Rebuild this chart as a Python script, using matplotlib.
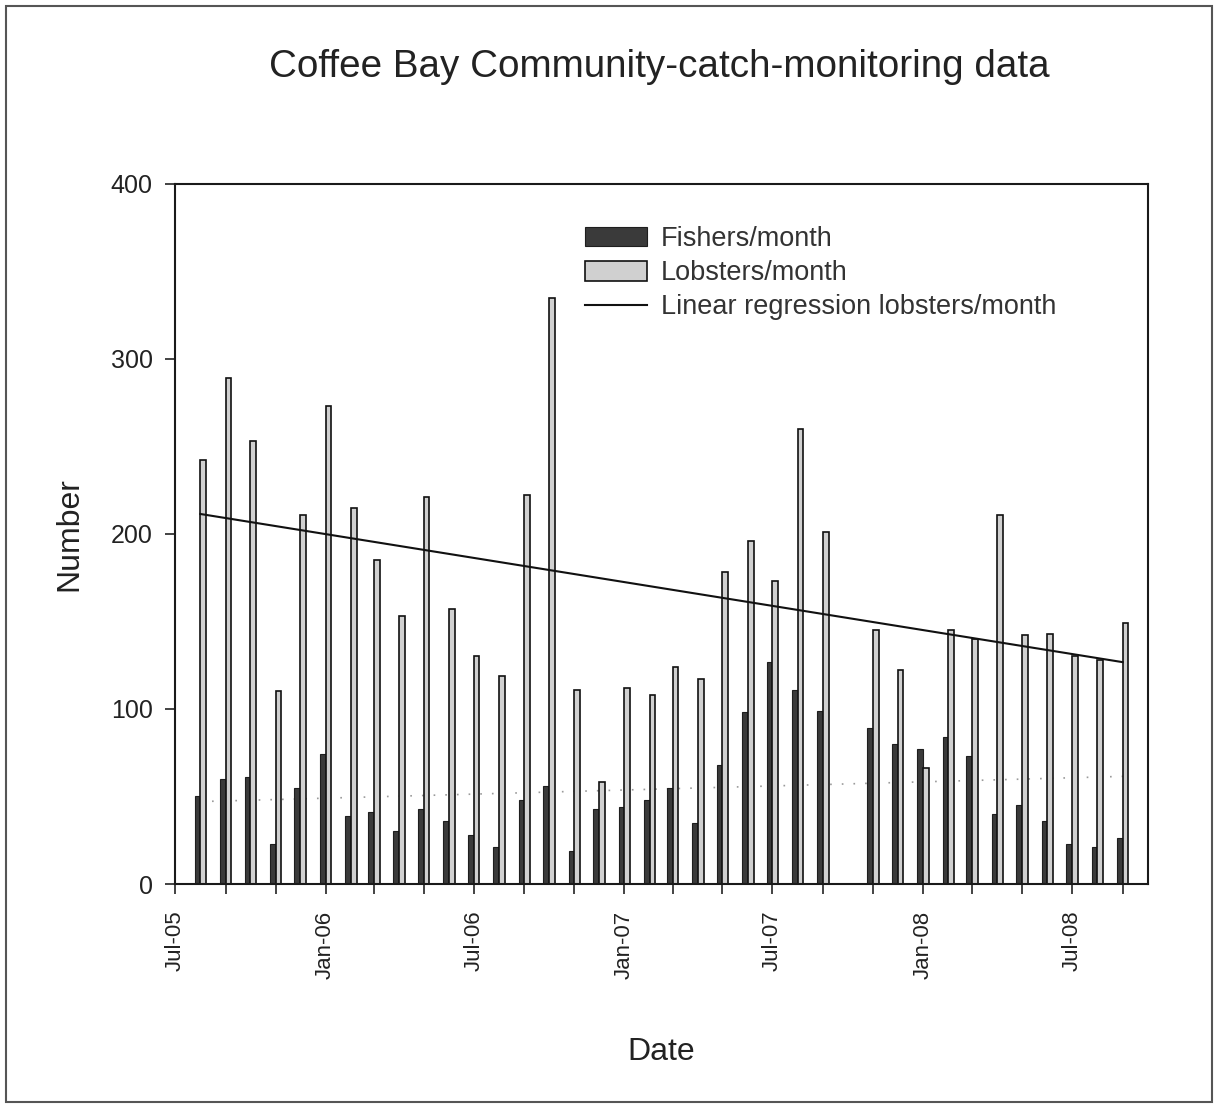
import numpy as np
import pandas as pd
import matplotlib
matplotlib.use("Agg")
import matplotlib.pyplot as plt
import matplotlib.dates as mdates
from matplotlib.patches import Rectangle

plt.rcParams['font.family'] = ['Liberation Sans', 'DejaVu Sans']

# monthly catch records, Aug 2005 - Sep 2008 (no record for Oct 2007)
months = pd.date_range("2005-08-01", "2008-09-01", freq="MS")
fishers = [50, 60, 61, 23, 55, 74, 39, 41, 30, 43, 36, 28, 21,
           48, 56, 19, 43, 44, 48, 55, 35, 68, 98, 127, 111, 99,
           np.nan, 89, 80, 77, 84, 73, 40, 45, 36, 23, 21, 26]
lobsters = [242, 289, 253, 110, 211, 273, 215, 185, 153, 221, 157, 130, 119,
            222, 335, 111, 58, 112, 108, 124, 117, 178, 196, 173, 260, 201,
            np.nan, 145, 122, 66, 145, 140, 211, 142, 143, 130, 128, 149]

fishers = np.array(fishers, dtype=float)
lobsters = np.array(lobsters, dtype=float)
x = mdates.date2num(months)

fig = plt.figure(figsize=(12.16, 11.05), dpi=100)
ax = fig.add_axes([0.1439, 0.2, 0.8002, 0.6335])

# outer frame around the whole figure
fig.patches.append(Rectangle((0.005, 0.003), 0.992, 0.992, transform=fig.transFigure,
                             fill=False, edgecolor='#555555', linewidth=1.5))

bw = 7.0
h_f = ax.bar(x - 3.5, fishers, width=bw, color='#3a3a3a', edgecolor='#1e1e1e',
             linewidth=0.8, label='Fishers/month', zorder=2)
h_l = ax.bar(x + 3.5, lobsters, width=bw, color='#d0d0d0', edgecolor='#111111',
             linewidth=1.2, label='Lobsters/month', zorder=2)

# least-squares trend lines over the recorded months
ok = ~np.isnan(lobsters)
k, b = np.polyfit(np.arange(len(x))[ok], lobsters[ok], 1)
idx = np.array([0, len(x) - 1])
h_r, = ax.plot(x[idx], k * idx + b, color='#111111', linewidth=1.5,
               label='Linear regression lobsters/month', zorder=3)

k2, b2 = np.polyfit(np.arange(len(x))[ok], fishers[ok], 1)
ax.plot(x[idx], k2 * idx + b2, color='#9a9a9a', linewidth=1.2,
        linestyle=(0, (1, 6)), zorder=1)

ax.set_xlim(mdates.date2num(pd.Timestamp("2005-07-01")),
            mdates.date2num(pd.Timestamp("2008-10-02")))
ax.set_ylim(0, 400)
ax.set_yticks([0, 100, 200, 300, 400])

ax.xaxis.set_major_locator(mdates.MonthLocator(bymonth=(1, 7)))
ax.xaxis.set_major_formatter(mdates.DateFormatter('%b-%y'))
ax.xaxis.set_minor_locator(mdates.MonthLocator(bymonth=(3, 5, 9, 11)))

ax.tick_params(axis='x', which='both', direction='out', length=7, width=1.2,
               labelsize=16, pad=12, labelrotation=90, colors='#222222')
ax.tick_params(axis='y', direction='out', length=7, width=1.2,
               labelsize=18, pad=9, colors='#222222')
for sp in ax.spines.values():
    sp.set_linewidth(1.5)
    sp.set_color('#1a1a1a')

ax.set_xlabel('Date', fontsize=23, color='#222222', labelpad=42)
ax.set_ylabel('Number', fontsize=23, color='#222222', labelpad=19)
fig.text(0.5424, 0.939, 'Coffee Bay Community-catch-monitoring data',
         ha='center', va='center', fontsize=27.8, color='#222222')

leg = ax.legend(handles=[h_f, h_l, h_r], loc='upper left',
                bbox_to_anchor=(0.4214, 0.94), frameon=False,
                fontsize=19.5, borderpad=0, borderaxespad=0, handlelength=2.3,
                handleheight=0.75, handletextpad=0.5, labelspacing=0.3)
for t in leg.get_texts():
    t.set_color('#333333')

fig.savefig('out.png', dpi=100)
